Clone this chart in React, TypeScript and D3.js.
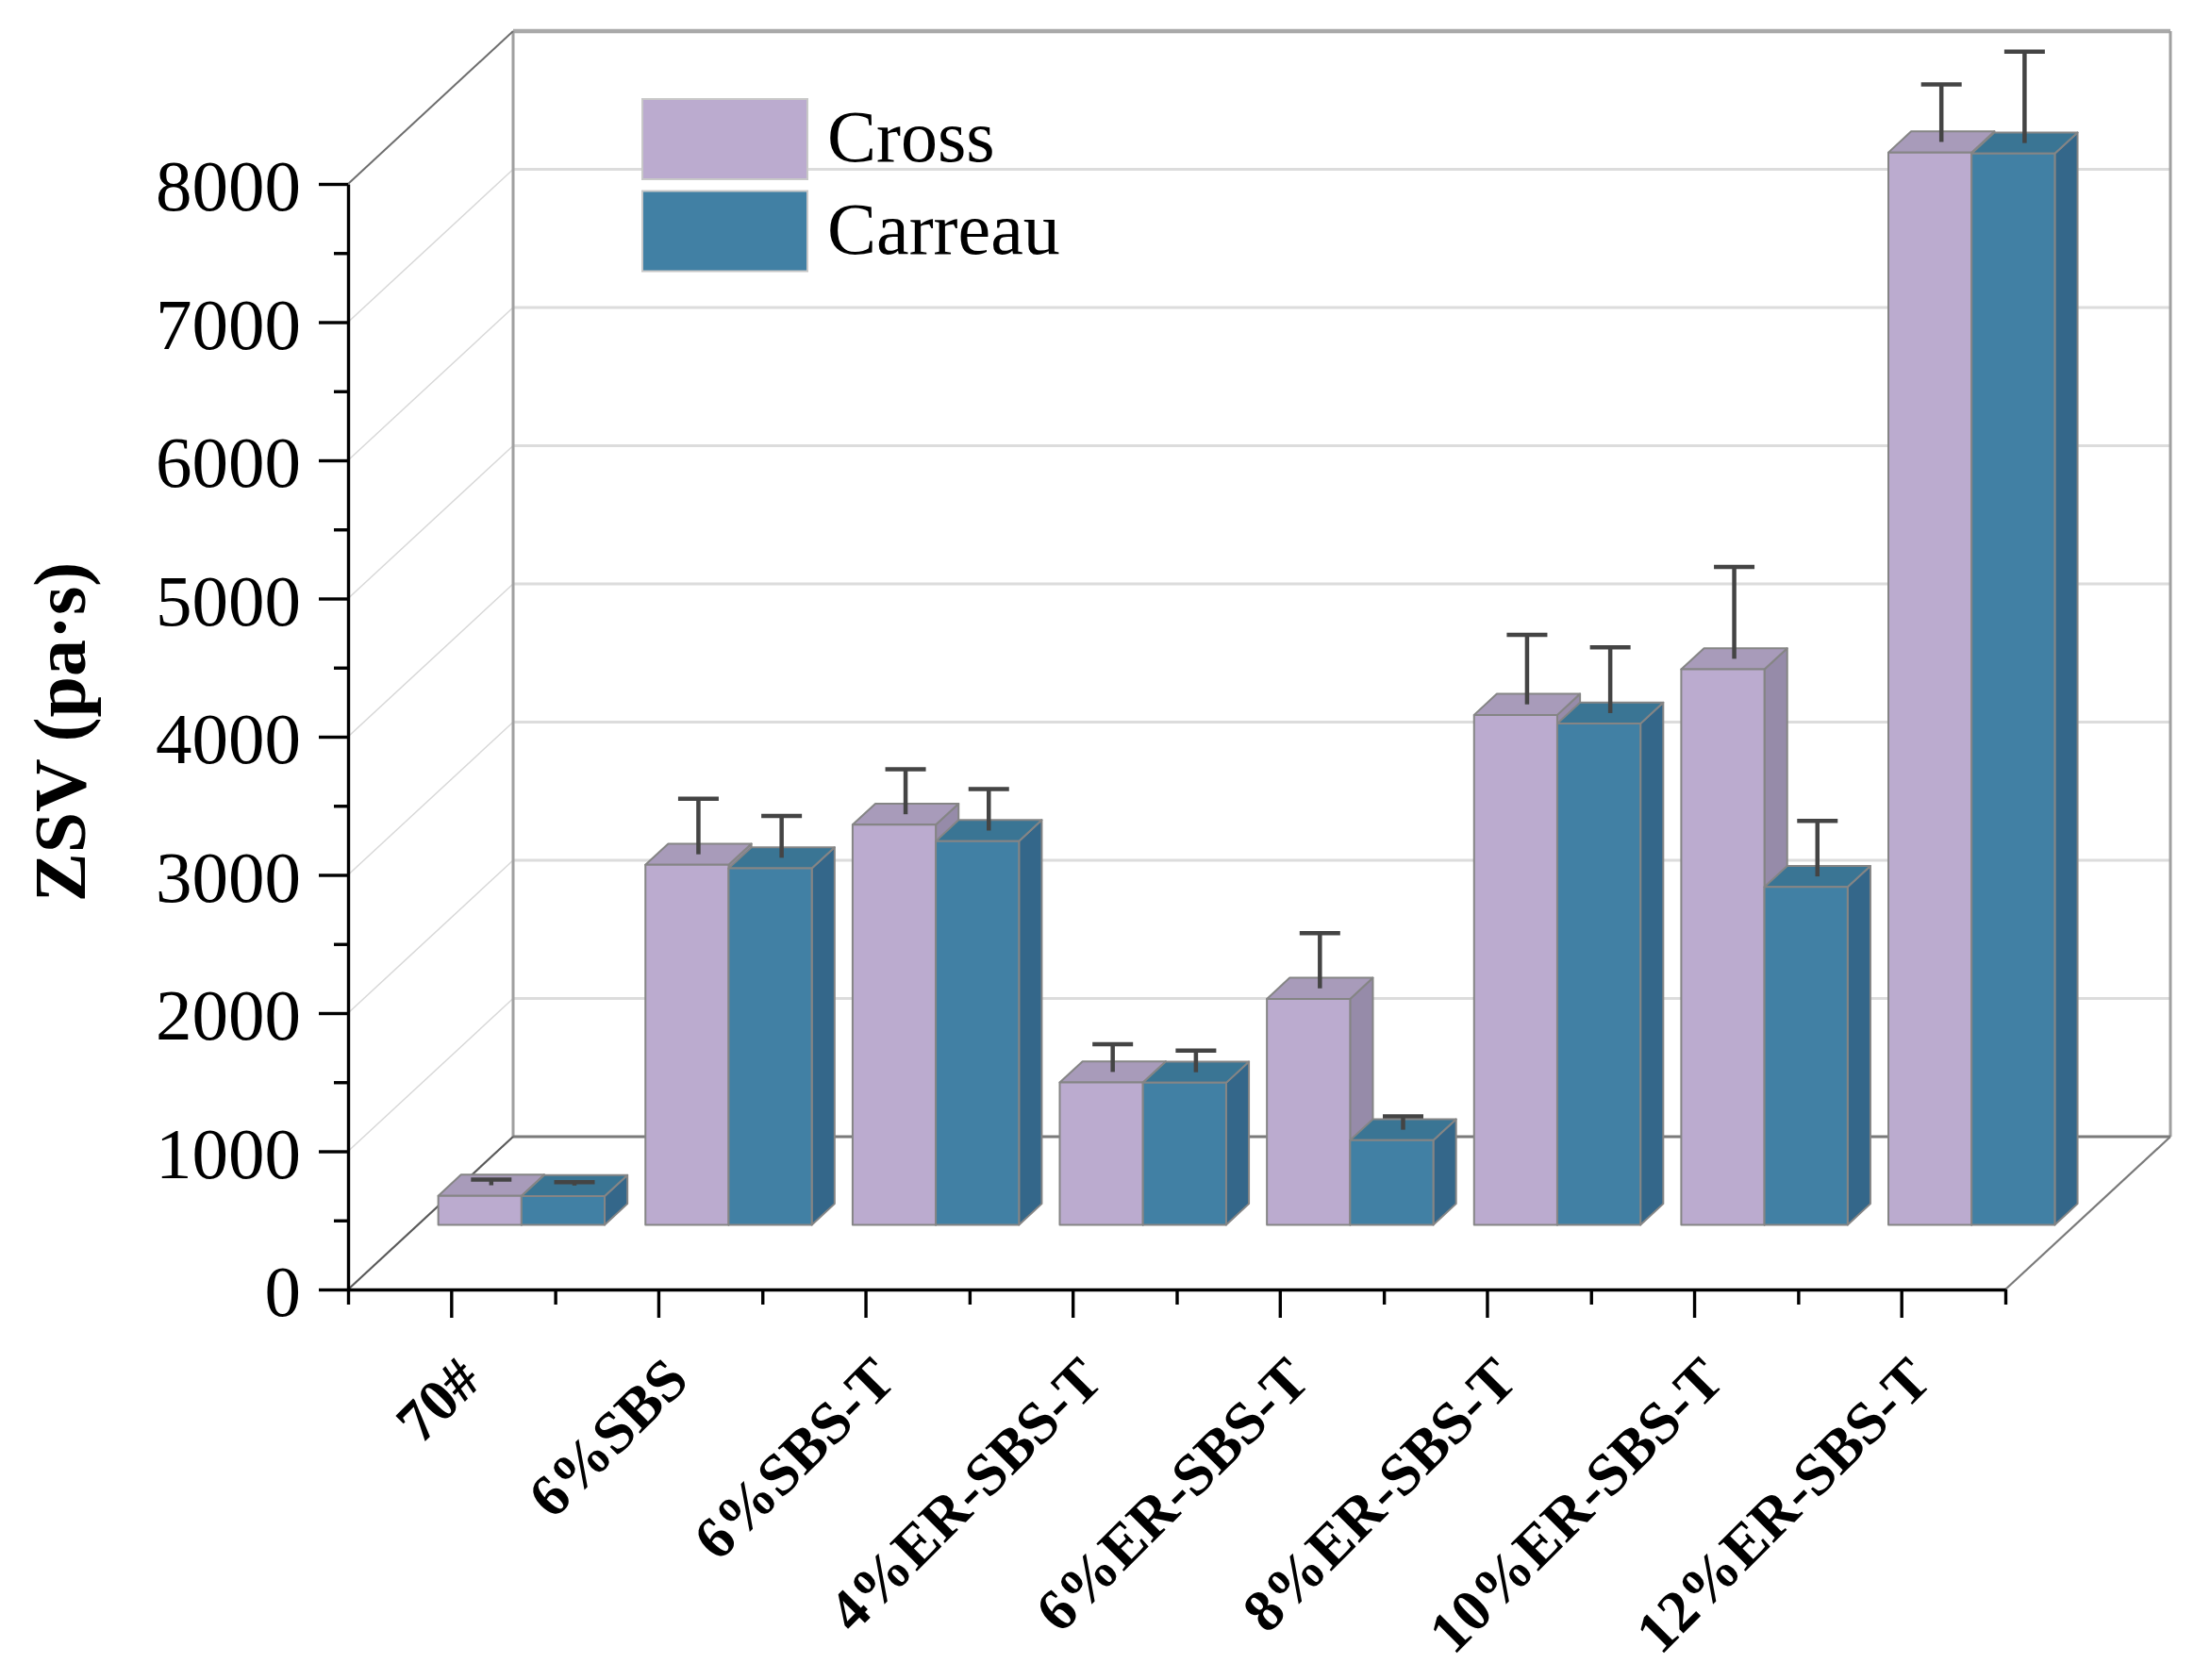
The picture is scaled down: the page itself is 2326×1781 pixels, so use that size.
import { useEffect, useRef } from "react";
import * as d3 from "d3";

// Zero shear viscosity
const categories = [
  "70#",
  "6%SBS",
  "6%SBS-T",
  "4%ER-SBS-T",
  "6%ER-SBS-T",
  "8%ER-SBS-T",
  "10%ER-SBS-T",
  "12%ER-SBS-T",
];
const seriesNames = ["Cross", "Carreau"];
const crossValues = [210, 2605, 2895, 1030, 1635, 3690, 4020, 7760];
const crossErrors = [42, 402, 326, 200, 400, 503, 665, 416];
const carreauValues = [208, 2580, 2777, 1028, 612, 3627, 2445, 7752];
const carreauErrors = [24, 302, 300, 156, 96, 475, 402, 661];
const yMajorTicks = [0, 1000, 2000, 3000, 4000, 5000, 6000, 7000, 8000];
const yMinorTicks = [500, 1500, 2500, 3500, 4500, 5500, 6500, 7500];
const yGridTicks = [1000, 2000, 3000, 4000, 5000, 6000, 7000];

const WIDTH = 2326;
const HEIGHT = 1781;
const FONT = '"Liberation Serif", "Times New Roman", serif';

const faces: Record<string, { front: string; top: string; side: string }> = {
  Cross: { front: "#bbabcf", top: "#a89bba", side: "#968ba9" },
  Carreau: { front: "#4180a4", top: "#3a7594", side: "#34678a" },
};

export default function App() {
  const svgRef = useRef<SVGSVGElement>(null);

  useEffect(() => {
    if (!svgRef.current) return;
    const svg = d3.select(svgRef.current);
    svg.selectAll("*").remove();

    // front plane of the box
    const left = 369;
    const right = 2126;
    const bottom = 1367;
    const top = 195;
    // oblique depth vector (front -> back)
    const depthX = 175;
    const depthY = -162;
    const barFront = 0.423;
    const barBack = 0.561;

    const x = d3.scaleBand<string>().domain(categories).range([left, right]);
    const inner = d3
      .scaleBand<string>()
      .domain(seriesNames)
      .range([0, x.bandwidth()])
      .paddingOuter(0.245);
    const y = d3.scaleLinear().domain([0, 8000]).range([bottom, top]);

    const proj = (px: number, v: number, d: number): [number, number] => [
      px + depthX * d,
      y(v) + depthY * d,
    ];
    const poly = (pts: [number, number][]) => pts.map((p) => p.join(",")).join(" ");

    const backL = left + depthX;
    const backR = right + depthX;

    // Grille du mur du fond
    svg
      .append("g")
      .selectAll("line")
      .data(yGridTicks)
      .enter()
      .append("line")
      .attr("x1", backL)
      .attr("x2", backR)
      .attr("y1", (d) => y(d) + depthY)
      .attr("y2", (d) => y(d) + depthY)
      .attr("stroke", "#dcdcdc")
      .attr("stroke-width", 3);

    // Grille du mur gauche
    svg
      .append("g")
      .selectAll("line")
      .data(yGridTicks)
      .enter()
      .append("line")
      .attr("x1", left)
      .attr("x2", backL)
      .attr("y1", (d) => y(d))
      .attr("y2", (d) => y(d) + depthY)
      .attr("stroke", "#d8d8d8")
      .attr("stroke-width", 1.5);

    // cadre
    const frame = svg.append("g").attr("fill", "none");
    frame
      .append("line")
      .attr("x1", backL)
      .attr("x2", backR)
      .attr("y1", y(8000) + depthY)
      .attr("y2", y(8000) + depthY)
      .attr("stroke", "#a9a9a9")
      .attr("stroke-width", 4.5);
    frame
      .append("line")
      .attr("x1", backL)
      .attr("x2", backL)
      .attr("y1", y(8000) + depthY)
      .attr("y2", y(0) + depthY)
      .attr("stroke", "#a0a0a0")
      .attr("stroke-width", 3);
    frame
      .append("line")
      .attr("x1", backR)
      .attr("x2", backR)
      .attr("y1", y(8000) + depthY)
      .attr("y2", y(0) + depthY)
      .attr("stroke", "#a0a0a0")
      .attr("stroke-width", 3);
    frame
      .append("line")
      .attr("x1", backL)
      .attr("x2", backR)
      .attr("y1", y(0) + depthY)
      .attr("y2", y(0) + depthY)
      .attr("stroke", "#7a7a7a")
      .attr("stroke-width", 3);
    frame
      .append("line")
      .attr("x1", left)
      .attr("x2", backL)
      .attr("y1", y(8000))
      .attr("y2", y(8000) + depthY)
      .attr("stroke", "#6e6e6e")
      .attr("stroke-width", 2);
    frame
      .append("line")
      .attr("x1", left)
      .attr("x2", backL)
      .attr("y1", y(0))
      .attr("y2", y(0) + depthY)
      .attr("stroke", "#5a5a5a")
      .attr("stroke-width", 2.2);
    frame
      .append("line")
      .attr("x1", right)
      .attr("x2", backR)
      .attr("y1", y(0))
      .attr("y2", y(0) + depthY)
      .attr("stroke", "#7a7a7a")
      .attr("stroke-width", 2.2);

    // Barres 3D
    const rows = categories.flatMap((cat, i) => [
      { cat, series: "Cross", value: crossValues[i], err: crossErrors[i] },
      { cat, series: "Carreau", value: carreauValues[i], err: carreauErrors[i] },
    ]);

    const bars = svg
      .append("g")
      .selectAll("g")
      .data(rows)
      .enter()
      .append("g")
      .attr("stroke", "#858585")
      .attr("stroke-width", 2)
      .attr("stroke-linejoin", "round");

    const xl = (d: (typeof rows)[number]) => (x(d.cat) || 0) + (inner(d.series) || 0);
    const xr = (d: (typeof rows)[number]) => xl(d) + inner.bandwidth();

    bars
      .append("polygon")
      .attr("points", (d) =>
        poly([
          proj(xr(d), 0, barFront),
          proj(xr(d), 0, barBack),
          proj(xr(d), d.value, barBack),
          proj(xr(d), d.value, barFront),
        ])
      )
      .attr("fill", (d) => faces[d.series].side);
    bars
      .append("polygon")
      .attr("points", (d) =>
        poly([
          proj(xl(d), d.value, barFront),
          proj(xr(d), d.value, barFront),
          proj(xr(d), d.value, barBack),
          proj(xl(d), d.value, barBack),
        ])
      )
      .attr("fill", (d) => faces[d.series].top);
    bars
      .append("polygon")
      .attr("points", (d) =>
        poly([
          proj(xl(d), 0, barFront),
          proj(xr(d), 0, barFront),
          proj(xr(d), d.value, barFront),
          proj(xl(d), d.value, barFront),
        ])
      )
      .attr("fill", (d) => faces[d.series].front);

    // Barres d'erreur
    const mid = (barFront + barBack) / 2;
    const errs = svg
      .append("g")
      .attr("stroke", "#444")
      .attr("stroke-width", 4.5)
      .selectAll("g")
      .data(rows)
      .enter()
      .append("g");
    const ex = (d: (typeof rows)[number]) => (xl(d) + xr(d)) / 2 + depthX * mid;
    errs
      .append("line")
      .attr("x1", ex)
      .attr("x2", ex)
      .attr("y1", (d) => y(d.value) + depthY * mid)
      .attr("y2", (d) => y(d.value + d.err) + depthY * mid);
    errs
      .append("line")
      .attr("x1", (d) => ex(d) - 21.5)
      .attr("x2", (d) => ex(d) + 21.5)
      .attr("y1", (d) => y(d.value + d.err) + depthY * mid)
      .attr("y2", (d) => y(d.value + d.err) + depthY * mid);

    // Axe Y
    const yAxis = svg
      .append("g")
      .attr("transform", `translate(${left},0)`)
      .call(
        d3
          .axisLeft(y)
          .tickValues(yMajorTicks)
          .tickSize(31)
          .tickSizeOuter(0)
          .tickPadding(19)
          .tickFormat(d3.format("d"))
      );
    yAxis.attr("font-family", FONT).attr("font-size", 77);
    yAxis.selectAll(".domain").attr("stroke", "#000").attr("stroke-width", 3.4);
    yAxis.selectAll(".tick line").attr("stroke", "#000").attr("stroke-width", 3.4);
    yAxis.selectAll(".tick text").attr("fill", "#000").attr("dy", "0.36em");

    const yMinor = svg
      .append("g")
      .attr("transform", `translate(${left},0)`)
      .call(d3.axisLeft(y).tickValues(yMinorTicks).tickSize(15).tickFormat(() => ""));
    yMinor.select(".domain").remove();
    yMinor.selectAll(".tick line").attr("stroke", "#000").attr("stroke-width", 3.4);

    // Axe X
    const xAxis = svg
      .append("g")
      .attr("transform", `translate(0,${bottom})`)
      .call(d3.axisBottom(x).tickSize(30).tickSizeOuter(0).tickFormat(() => ""));
    xAxis.selectAll(".domain").attr("stroke", "#000").attr("stroke-width", 3.4);
    xAxis.selectAll(".tick line").attr("stroke", "#000").attr("stroke-width", 3.4);

    const xEdges = d3.scaleLinear().domain([0, categories.length]).range([left, right]);
    const xMinor = svg
      .append("g")
      .attr("transform", `translate(0,${bottom})`)
      .call(
        d3
          .axisBottom(xEdges)
          .tickValues(d3.range(0, categories.length + 1))
          .tickSize(16)
          .tickFormat(() => "")
      );
    xMinor.select(".domain").remove();
    xMinor.selectAll(".tick line").attr("stroke", "#000").attr("stroke-width", 3.4);

    // Labels X inclinés
    svg
      .append("g")
      .selectAll("text")
      .data(categories)
      .enter()
      .append("text")
      .attr("transform", (d) => {
        const ax = (x(d) || 0) + x.bandwidth() / 2 + 34;
        return `translate(${ax},1466) rotate(-45)`;
      })
      .attr("text-anchor", "end")
      .attr("font-family", FONT)
      .attr("font-weight", "bold")
      .attr("font-size", 63)
      .text((d) => d);

    // Titre Y
    svg
      .append("text")
      .attr("transform", "translate(90,776) rotate(-90)")
      .attr("text-anchor", "middle")
      .attr("font-family", FONT)
      .attr("font-weight", "bold")
      .attr("font-size", 78)
      .text("ZSV (pa·s)");

    // Légende
    const legend = svg
      .append("g")
      .selectAll("g")
      .data(seriesNames)
      .enter()
      .append("g")
      .attr("transform", (_, i) => `translate(681,${105 + i * 97.5})`);
    legend
      .append("rect")
      .attr("width", 175)
      .attr("height", 85)
      .attr("fill", (d) => faces[d].front)
      .attr("stroke", "#c8c8c8")
      .attr("stroke-width", 2);
    legend
      .append("text")
      .attr("x", 196)
      .attr("y", 66)
      .attr("font-family", FONT)
      .attr("font-size", 78)
      .text((d) => d);
  }, []);

  return (
    <svg
      ref={svgRef}
      width={WIDTH}
      height={HEIGHT}
      style={{ position: "absolute", left: 0, top: 0, background: "#fff" }}
    />
  );
}
